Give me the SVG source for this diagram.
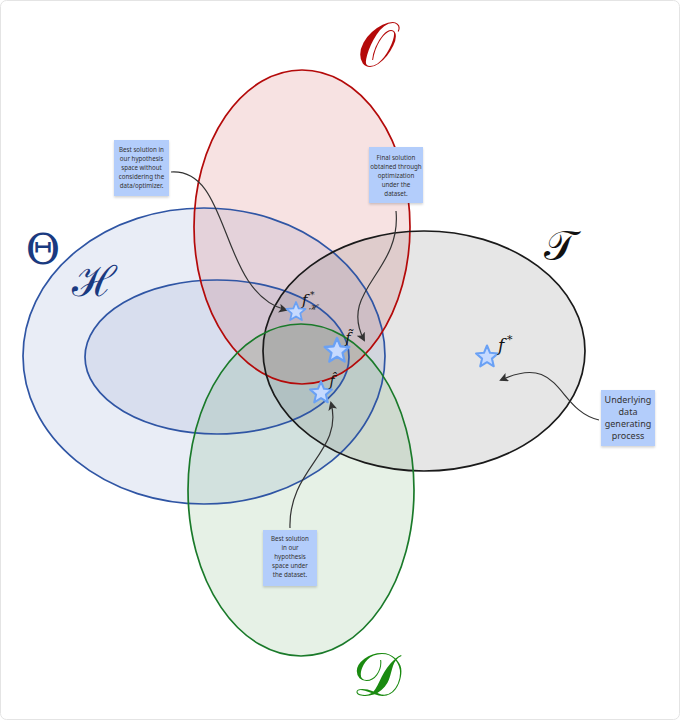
<svg xmlns="http://www.w3.org/2000/svg" width="680" height="720" viewBox="0 0 680 720">
<style>
.note{fill:#b3cdfb;}
.nt{font-family:"Noto Sans","Open Sans",sans-serif;font-size:6.2px;fill:#333;text-anchor:middle;}
.nt2{font-family:"Noto Sans","Open Sans",sans-serif;font-size:9px;fill:#333;text-anchor:middle;}
.conn{fill:none;stroke:#333;stroke-width:1.2;}
.star{fill:#c6daff;stroke:#6aa1f5;stroke-width:1.8;stroke-linejoin:round;}
.math{font-family:"DejaVu Serif","Liberation Serif",serif;font-style:italic;fill:#111;}
.big{font-family:"DejaVu Serif","Liberation Serif",serif;}
.ol{fill:none;stroke-width:1.7;}
</style>
<defs>
<marker id="ah" markerWidth="9" markerHeight="9" refX="7" refY="4.5" orient="auto" markerUnits="userSpaceOnUse">
<path d="M0,0 L9,4.5 L0,9 L2,4.5 z" fill="#333"/>
</marker>
<polygon id="st" points="0,-10 2.65,-3.64 9.51,-3.09 4.28,1.39 5.88,8.09 0,4.5 -5.88,8.09 -4.28,1.39 -9.51,-3.09 -2.65,-3.64"/>
<filter id="sh" x="-20%" y="-20%" width="140%" height="140%"><feDropShadow dx="0" dy="1.5" stdDeviation="1.2" flood-color="#000" flood-opacity="0.18"/></filter>
</defs>
<rect x="0.5" y="0.5" width="679" height="719" rx="6" fill="#fff" stroke="#e4e4e4"/>

<g id="theta">
<ellipse cx="204" cy="356" rx="181" ry="148" fill="#2850aa" fill-opacity="0.1"/>
<text x="43" y="264" class="big" font-size="42" fill="#1a3a80" text-anchor="middle">Θ</text>
</g>
<g id="hspace">
<ellipse cx="217" cy="357" rx="132" ry="77" fill="#2850aa" fill-opacity="0.09"/>
<text x="94" y="296" class="big" font-size="42" fill="#1a3a80" text-anchor="middle">ℋ</text>
</g>
<g id="opt">
<ellipse cx="302" cy="227" rx="108" ry="157" fill="#c83c3c" fill-opacity="0.15"/>
<text x="376" y="66" class="big" font-size="62" fill="#b40a0a" text-anchor="middle">𝒪</text>
</g>
<g id="target">
<ellipse cx="424" cy="351" rx="161" ry="120" fill="#3c3c3c" fill-opacity="0.13"/>
<text x="560" y="260" class="big" font-size="42" fill="#111" text-anchor="middle">𝒯</text>
</g>
<g id="data">
<ellipse cx="301" cy="490" rx="113" ry="166" fill="#1e821e" fill-opacity="0.11"/>
<text x="376" y="696" class="big" font-size="62" fill="#1a8a10" text-anchor="middle">𝒟</text>
</g>
<g id="outlines">
<ellipse class="ol" cx="204" cy="356" rx="181" ry="148" stroke="#2f55a4"/>
<ellipse class="ol" cx="217" cy="357" rx="132" ry="77" stroke="#2f55a4"/>
<ellipse class="ol" cx="302" cy="227" rx="108" ry="157" stroke="#b40a0a"/>
<ellipse class="ol" cx="424" cy="351" rx="161" ry="120" stroke="#1a1a1a"/>
<ellipse class="ol" cx="301" cy="490" rx="113" ry="166" stroke="#1a7a2a"/>
</g>

<g id="connectors">
<path class="conn" d="M171,172 C232,168 218,292 286,310" marker-end="url(#ah)"/>
<path class="conn" d="M396,211 C402,272 338,290 364,340" marker-end="url(#ah)"/>
<path class="conn" d="M290,528 C288,468 344,452 331,403" marker-end="url(#ah)"/>
<path class="conn" d="M599,420 C556,410 562,352 501,380" marker-end="url(#ah)"/>
</g>

<g id="fH">
<use href="#st" class="star" transform="translate(296,312) scale(1.0)"/>
<text x="302" y="305" class="math" font-size="15">f</text>
<text x="310" y="298" class="math" font-size="9">*</text>
<text x="309" y="310" class="math" font-size="8">ℋ</text>
</g>
<g id="ftilde">
<use href="#st" class="star" transform="translate(337,351) scale(1.3)"/>
<text x="348" y="343" class="math" font-size="14" text-anchor="middle">f̃</text>
</g>
<g id="fhat">
<use href="#st" class="star" transform="translate(321,393) scale(1.15)"/>
<text x="332" y="386" class="math" font-size="14" text-anchor="middle">f̂</text>
</g>
<g id="fstar">
<use href="#st" class="star" transform="translate(487,357) scale(1.15)"/>
<text x="498" y="351" class="math" font-size="17">f</text>
<text x="507" y="343" class="math" font-size="11">*</text>
</g>

<g id="note1">
<rect x="114" y="140" width="55" height="56" class="note" filter="url(#sh)"/>
<text class="nt"><tspan x="141.5" y="152">Best solution in</tspan><tspan x="141.5" y="161">our hypothesis</tspan><tspan x="141.5" y="170">space without</tspan><tspan x="141.5" y="179">considering the</tspan><tspan x="141.5" y="188">data/optimizer.</tspan></text>
</g>
<g id="note2">
<rect x="369" y="147" width="54" height="56" class="note" filter="url(#sh)"/>
<text class="nt"><tspan x="396" y="160">Final solution</tspan><tspan x="396" y="169">obtained through</tspan><tspan x="396" y="178">optimization</tspan><tspan x="396" y="187">under the</tspan><tspan x="396" y="196">dataset.</tspan></text>
</g>
<g id="note3">
<rect x="601" y="390" width="54" height="56" class="note" filter="url(#sh)"/>
<text class="nt2"><tspan x="628" y="403">Underlying</tspan><tspan x="628" y="415">data</tspan><tspan x="628" y="427">generating</tspan><tspan x="628" y="439">process</tspan></text>
</g>
<g id="note4">
<rect x="263" y="530" width="54" height="56" class="note" filter="url(#sh)"/>
<text class="nt"><tspan x="290" y="541">Best solution</tspan><tspan x="290" y="550">in our</tspan><tspan x="290" y="559">hypothesis</tspan><tspan x="290" y="568">space under</tspan><tspan x="290" y="577">the dataset.</tspan></text>
</g>
</svg>
